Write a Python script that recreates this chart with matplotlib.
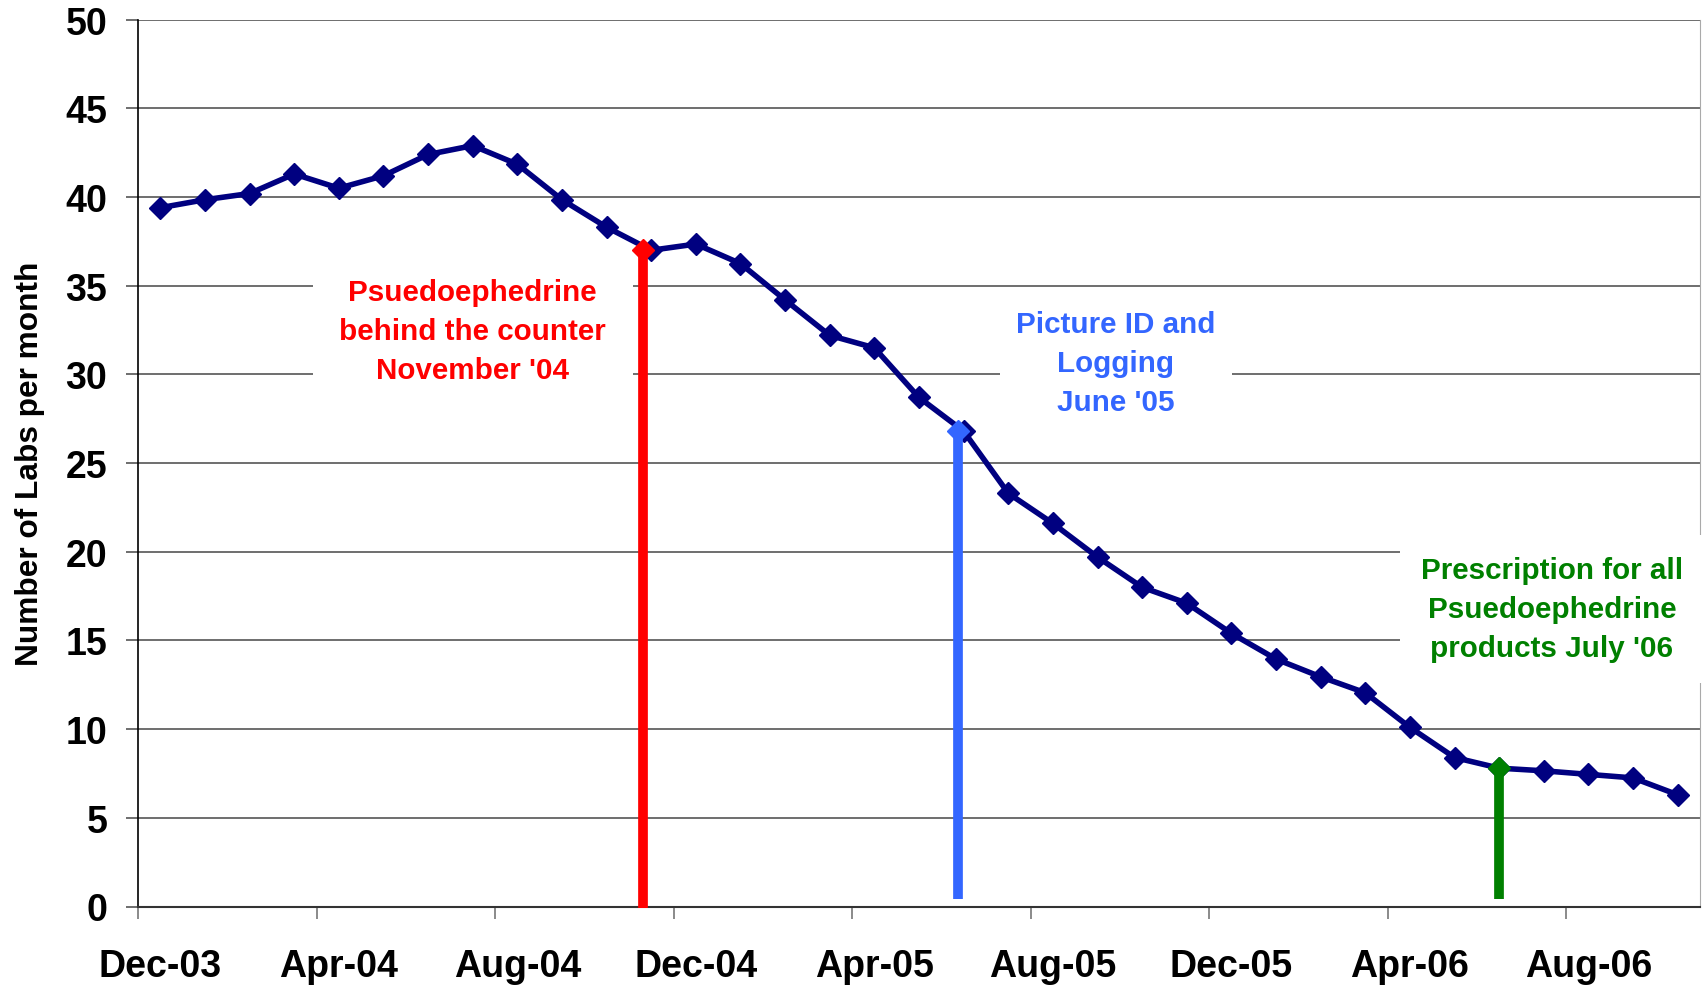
import numpy as np
import matplotlib
matplotlib.use('Agg')
import matplotlib.pyplot as plt

# 每月实验室数量 (Dec-03 .. Oct-06)
months = ['Dec-03', 'Jan-04', 'Feb-04', 'Mar-04', 'Apr-04', 'May-04', 'Jun-04',
          'Jul-04', 'Aug-04', 'Sep-04', 'Oct-04', 'Nov-04', 'Dec-04', 'Jan-05',
          'Feb-05', 'Mar-05', 'Apr-05', 'May-05', 'Jun-05', 'Jul-05', 'Aug-05',
          'Sep-05', 'Oct-05', 'Nov-05', 'Dec-05', 'Jan-06', 'Feb-06', 'Mar-06',
          'Apr-06', 'May-06', 'Jun-06', 'Jul-06', 'Aug-06', 'Sep-06', 'Oct-06']
labs = [39.4, 39.85, 40.2, 41.3, 40.5, 41.2, 42.4, 42.9, 41.85, 39.85,
        38.3, 37.0, 37.35, 36.25, 34.2, 32.2, 31.5, 28.7, 26.8, 23.3,
        21.6, 19.7, 18.0, 17.1, 15.4, 13.95, 12.95, 12.05, 10.1, 8.4,
        7.8, 7.65, 7.45, 7.25, 6.3]
tick_months = ['Dec-03', 'Apr-04', 'Aug-04', 'Dec-04', 'Apr-05', 'Aug-05',
               'Dec-05', 'Apr-06', 'Aug-06']

# 三个政策节点
events = ['Nov-04', 'Jun-05', 'Jun-06']
event_colors = ['#ff0000', '#3366ff', '#008000']
event_shift = [-0.18, -0.13, 0.0]
event_bottom = [-0.1, 0.45, 0.45]
event_text = ['Psuedoephedrine\nbehind the counter\nNovember \'04',
              'Picture ID and\nLogging\nJune \'05',
              'Prescription for all\nPsuedoephedrine\nproducts July \'06']
text_pos = [(7.0, 32.45), (21.41, 30.62), (31.18, 16.78)]
text_pad = [0.9, 0.55, 0.7]

font = 'Liberation Sans'
fig = plt.figure(figsize=(17.06, 9.87), dpi=100)
ax = fig.add_axes([138 / 1706, 1 - 907.5 / 987, 1562 / 1706, 886.8 / 987])

x = np.arange(len(months))
ax.plot(x, labs, color='#000080', lw=4, marker='D', ms=11, mec='#000080', zorder=4)

for name, c, dx, y0, txt, (tx, ty), pad in zip(events, event_colors, event_shift,
                                               event_bottom, event_text, text_pos, text_pad):
    i = months.index(name)
    xe = i + dx
    ax.plot([xe, xe], [y0, labs[i]], color=c, lw=7, solid_capstyle='butt', zorder=5, clip_on=False)
    ax.plot([xe], [labs[i]], marker='D', ms=11, color=c, zorder=6)
    ax.text(tx, ty, txt, color=c, fontsize=21.3, fontweight='bold', family=font,
            ha='center', va='center', linespacing=1.5, zorder=3.5,
            bbox=dict(boxstyle='square,pad=%s' % pad, fc='white', ec='none'))

ax.set_xlim(-0.5, len(months) - 0.5)
ax.set_ylim(0, 50)
ax.set_yticks(np.arange(0, 51, 5))
ax.yaxis.grid(True, color='#555555', lw=1.2)
ax.set_axisbelow(True)

ax.set_xticks([months.index(m) for m in tick_months])
ax.set_xticklabels(tick_months)
ax.set_xticks(np.arange(-0.5, 32, 4), minor=True)
ax.tick_params(axis='x', which='major', length=0, pad=30)
ax.tick_params(axis='x', which='minor', length=12 * 0.72, color='#777777', width=1.2)
ax.tick_params(axis='y', length=12 * 0.72, color='#555555', width=1.2, pad=13.5)
for lab in ax.get_xticklabels() + ax.get_yticklabels():
    lab.set_fontsize(27)
    lab.set_fontweight('bold')
    lab.set_family(font)

ax.spines['top'].set_visible(False)
ax.spines['right'].set_color('#aaaaaa')
ax.spines['left'].set_color('black')
ax.spines['bottom'].set_color('#333333')
ax.spines['left'].set_linewidth(1.2)
ax.spines['bottom'].set_linewidth(1.5)

ax.set_ylabel('Number of Labs per month', fontsize=22.8, fontweight='bold', family=font, va='center')
ax.yaxis.set_label_coords(-0.069, 0.5)

plt.savefig('out.png', dpi=100)
plt.close()
